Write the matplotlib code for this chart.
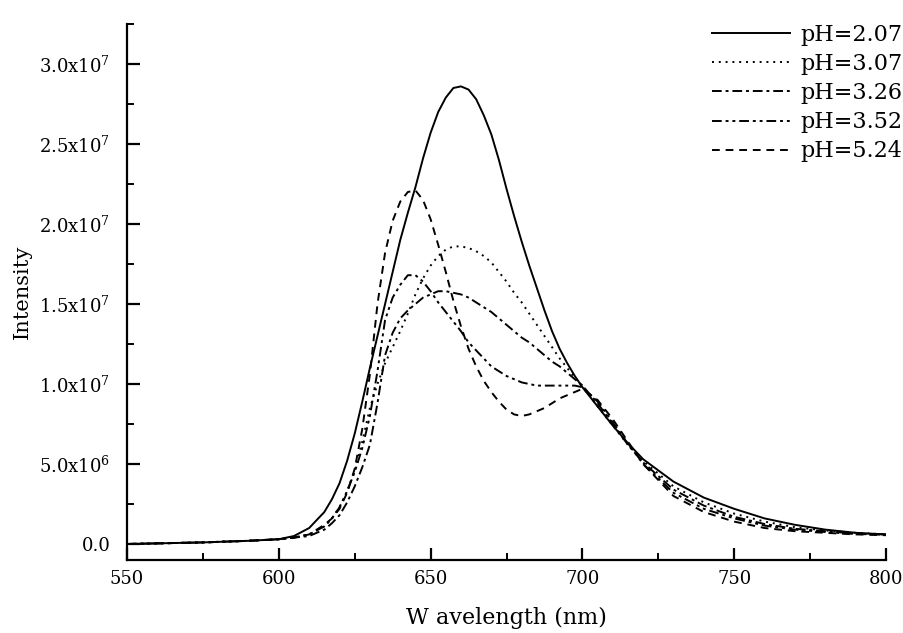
import matplotlib
matplotlib.use("Agg")
import matplotlib.pyplot as plt
from matplotlib.ticker import MultipleLocator, FuncFormatter

# ---------------------------------------------------------------------------
# Data (intensity in units of 1e7)
# ---------------------------------------------------------------------------
wavelength = [550, 575, 590, 600, 605, 610,
              615, 617.5, 620, 622.5, 625, 627.5, 630, 632.5, 635, 637.5,
              640, 642.5, 645, 647.5, 650, 652.5, 655, 657.5, 660, 662.5,
              665, 667.5, 670, 672.5, 675, 677.5, 680, 682.5, 685, 687.5,
              690, 692.5, 695, 697.5, 700,
              705, 710, 715, 720, 730, 740, 750, 760, 770, 780, 790, 800]

ph_207 = [0.0, 0.01, 0.02, 0.03, 0.05, 0.10,
          0.20, 0.28, 0.38, 0.52, 0.69, 0.89, 1.10, 1.30, 1.50, 1.70,
          1.90, 2.07, 2.23, 2.41, 2.57, 2.70, 2.79, 2.85, 2.86, 2.84,
          2.78, 2.68, 2.56, 2.40, 2.22, 2.05, 1.89, 1.74, 1.60, 1.46,
          1.33, 1.22, 1.13, 1.05, 0.98,
          0.86, 0.74, 0.63, 0.53, 0.39, 0.29, 0.22, 0.16, 0.12, 0.09, 0.07, 0.06]

ph_307 = [0.0, 0.01, 0.02, 0.03, 0.04, 0.06,
          0.11, 0.16, 0.23, 0.33, 0.46, 0.64, 0.85, 1.00, 1.13, 1.23,
          1.33, 1.44, 1.56, 1.66, 1.74, 1.80, 1.84, 1.86, 1.86, 1.85,
          1.83, 1.80, 1.76, 1.70, 1.64, 1.57, 1.51, 1.44, 1.37, 1.30,
          1.23, 1.16, 1.10, 1.04, 0.99,
          0.86, 0.74, 0.62, 0.52, 0.36, 0.26, 0.19, 0.14, 0.105, 0.085, 0.07, 0.06]

ph_326 = [0.0, 0.01, 0.02, 0.03, 0.04, 0.05,
          0.09, 0.13, 0.18, 0.26, 0.36, 0.48, 0.62, 0.88, 1.18, 1.32,
          1.41, 1.46, 1.50, 1.54, 1.56, 1.58, 1.58, 1.57, 1.56, 1.54,
          1.51, 1.48, 1.45, 1.41, 1.37, 1.33, 1.29, 1.26, 1.22, 1.18,
          1.14, 1.11, 1.07, 1.03, 0.99,
          0.88, 0.75, 0.62, 0.51, 0.34, 0.24, 0.17, 0.125, 0.095, 0.08, 0.065, 0.06]

ph_352 = [0.0, 0.01, 0.02, 0.03, 0.04, 0.06,
          0.11, 0.16, 0.23, 0.33, 0.45, 0.60, 0.80, 1.08, 1.40, 1.54,
          1.62, 1.68, 1.68, 1.64, 1.58, 1.51, 1.45, 1.39, 1.33, 1.26,
          1.21, 1.16, 1.11, 1.08, 1.05, 1.03, 1.01, 1.00, 0.99, 0.99,
          0.99, 0.99, 0.99, 0.99, 0.98,
          0.89, 0.76, 0.63, 0.50, 0.32, 0.22, 0.16, 0.115, 0.09, 0.075, 0.063, 0.058]

ph_524 = [0.0, 0.01, 0.02, 0.03, 0.04, 0.06,
          0.12, 0.16, 0.22, 0.32, 0.47, 0.72, 1.06, 1.50, 1.82, 2.02,
          2.14, 2.20, 2.21, 2.15, 2.03, 1.87, 1.70, 1.52, 1.36, 1.22,
          1.11, 1.02, 0.95, 0.89, 0.84, 0.81, 0.80, 0.81, 0.83, 0.85,
          0.88, 0.91, 0.93, 0.95, 0.97,
          0.90, 0.78, 0.64, 0.50, 0.30, 0.20, 0.14, 0.10, 0.08, 0.07, 0.06, 0.055]

labels = ["pH=2.07", "pH=3.07", "pH=3.26", "pH=3.52", "pH=5.24"]

# line patterns (solid, dotted, dash-dot, dash-dot-dot, dashed)
motifs = [None, (1, 2.5), (5, 2, 1.5, 2), (5, 2, 1.5, 2, 1.5, 2), (4, 3)]

# ---------------------------------------------------------------------------
# Figure
# ---------------------------------------------------------------------------
plt.rcParams["font.family"] = ["DejaVu Serif"]
plt.rcParams["mathtext.default"] = "regular"

fig = plt.figure(figsize=(9.04, 6.33), dpi=100)
ax = fig.add_axes([0.1405, 0.1153, 0.8396, 0.8468])

series = [ph_207, ph_307, ph_326, ph_352, ph_524]
for valeurs, lab, motif in zip(series, labels, motifs):
    y = [v * 1e7 for v in valeurs]
    ligne, = ax.plot(wavelength, y, color="black", lw=1.4, label=lab)
    if motif is not None:
        ligne.set_dashes(motif)

ax.set_xlim(550, 800)
ax.set_ylim(-1.0e6, 3.25e7)

ax.spines["top"].set_visible(False)
ax.spines["right"].set_visible(False)
ax.spines["left"].set_linewidth(1.6)
ax.spines["bottom"].set_linewidth(1.6)

ax.xaxis.set_major_locator(MultipleLocator(50))
ax.xaxis.set_minor_locator(MultipleLocator(25))
ax.yaxis.set_major_locator(MultipleLocator(5e6))
ax.yaxis.set_minor_locator(MultipleLocator(2.5e6))


def format_y(val, pos):
    if abs(val) < 1:
        return "0.0"
    exp = 7 if val >= 1e7 else 6
    return f"{val / 10**exp:.1f}x10$^{{{exp}}}$"


ax.yaxis.set_major_formatter(FuncFormatter(format_y))

ax.tick_params(which="major", direction="in", length=9, width=1.6,
               labelsize=13, pad=7)
ax.tick_params(which="minor", direction="in", length=5, width=1.4)
ax.tick_params(axis="y", pad=12)

ax.set_xlabel("W avelength (nm)", fontsize=16, labelpad=14)
ax.set_ylabel("Intensity", fontsize=15, labelpad=5)

fig.legend(loc="upper right", bbox_to_anchor=(0.998, 0.962), frameon=False,
           fontsize=16, handlelength=3.5, handletextpad=0.45,
           labelspacing=0.32, borderaxespad=0, borderpad=0)

fig.savefig("out.png", dpi=100)
